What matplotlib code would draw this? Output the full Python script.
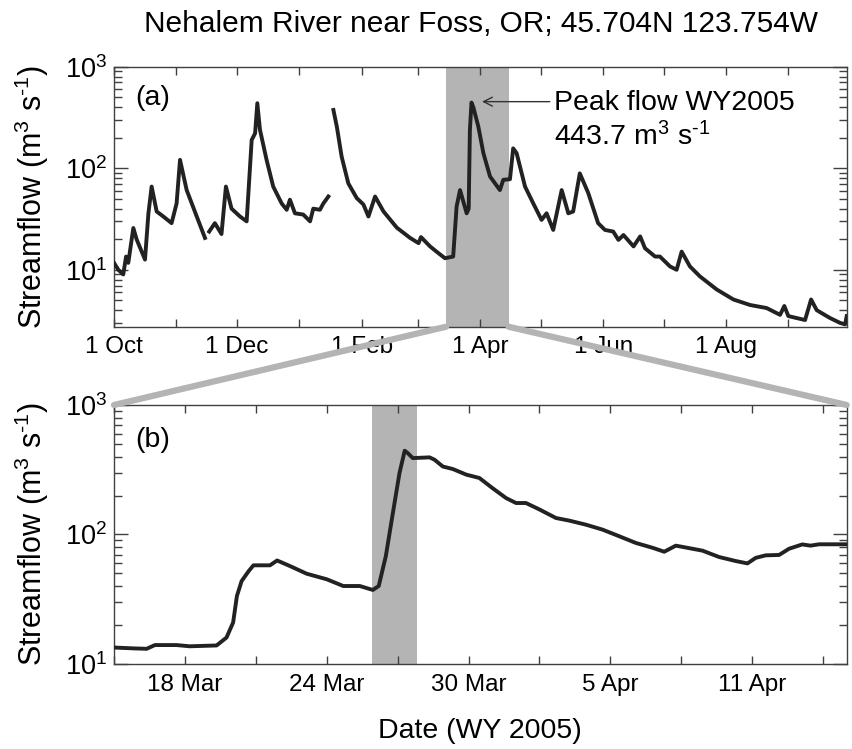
import numpy as np
import matplotlib
matplotlib.use("Agg")
import matplotlib.pyplot as plt
import matplotlib.dates as mdates
from matplotlib.patches import ConnectionPatch
from matplotlib.ticker import LogLocator, NullFormatter

# ── Data ───────────────────────────────────────────────────────────────────
# (a) streamflow for WY2005, days since 1 Oct 2004; nan marks a gap in record
WY_START = np.datetime64("2004-10-01T00:00")
wy_days = [0, 2.15, 4.6, 6.0, 7.1, 9.6, 11.3, 15.4, 17.1, 18.7, 21.2, 24.5, 28.6,
           31.1, 32.8, 36.1, 41.1, 45.2, 46.2, 47.3, 50.1, 53.4, 55.6, 58.4, 62.6,
           65.9, 68.4, 70.1, 71.2, 72.5, 75.8, 79.1, 83.3, 85.8, 87.4, 89.9, 94,
           97.4, 99, 102.3, 104, 106.5, 107.7, 109, 110.7, 113.1, 116.4, 120.6,
           123.9, 126.4, 129.7, 133.9, 140.5, 147.1, 151.3, 152.5, 157, 160.2,
           164.4, 168.5, 170.2, 171.9, 175.2, 176.2, 176.8, 177.6, 178.5, 181,
           183.5, 186.8, 191.7, 193.4, 196.7, 198.3, 200, 204.2, 208.3, 212.4,
           214.9, 218.2, 222.4, 225.7, 228.1, 231.4, 235.6, 240.5, 243.9, 248,
           250.6, 253.1, 258.1, 261.4, 263.8, 268.8, 271.2, 276.2, 279.5, 282,
           286.1, 291.1, 299.4, 307.7, 316, 324.2, 330.9, 333, 335, 343.3, 346.3,
           349.1, 355.7, 360.7, 363.2, 364]
wy_flow = [11.7, 10, 9, 13.5, 11.7, 25.8, 19.8, 12.6, 36, 66, 37.5, 33.5, 28.8,
           45, 121, 61, 33.5, 20.6, np.nan, 23.8, 28.8, 22.5, 66, 40, 33.5,
           30, 190, 221, 437, 240, 121, 66, 45, 39, 49, 36, 35,
           30, 40, 39, 45, 52.7, np.nan, 375, 257, 130, 71, 50.8,
           44, 33.5, 52.7, 37.5, 26, 20.6, 18.3, 21, 17, 15.1,
           13, 13.5, 42, 61, 36, 40, 238, 443.7, 400, 257,
           141, 83, 61, 77, 78, 157, 141, 66, 45, 31,
           36, 24.7, 61, 36, 37.5, 89, 57, 28.8, 24.7, 23.8,
           19.7, 22, 17, 21.3, 16.3, 13.5, 13.5, 10.8, 10, 15.1,
           10.8, 8.6, 6.4, 5.1, 4.5, 4.2, 3.6, 4.4, 3.5, 3.2, 5.1,
           4.0, 3.35, 3.0, 2.9, 3.5]

# (b) zoom window, days since 15 Mar 2005
ZOOM_START = np.datetime64("2005-03-15T00:00")
ZOOM_END = np.datetime64("2005-04-15T00:00")
zoom_days = [0, 0.82, 1.38, 1.73, 2.65, 3.2, 4.34, 4.76, 5.04, 5.2, 5.4, 5.7, 5.9,
             6.6, 6.9, 7.45, 8.15, 9.0, 9.7, 10.4, 10.95, 11.2, 11.5, 11.8, 12.08,
             12.3, 12.43, 12.64, 13.35, 13.56, 13.91, 14.34, 14.9, 15.46, 16.0,
             16.59, 17.01, 17.43, 18.0, 18.7, 19.26, 19.97, 20.67, 21.37, 22.08,
             22.78, 23.28, 23.77, 24.47, 24.9, 25.6, 26.3, 26.8, 27.15, 27.57,
             28.14, 28.56, 29.12, 29.47, 29.83, 31.0]
zoom_flow = [13.4, 13.2, 13.1, 14.0, 14.0, 13.7, 13.9, 16.0, 20.9, 33.5, 43.7, 52.2,
             57.8, 57.8, 63, 57, 49.8, 45.1, 40, 40, 37.3, 40, 68, 147, 299,
             443.7, 425, 389, 394, 378, 335, 320, 290, 273, 229,
             191, 175, 175, 156, 134, 128, 119, 109, 97, 86,
             79, 73.6, 82, 77.6, 75, 67, 62.4, 59.8, 66, 69,
             69.5, 77.6, 83.8, 82, 84, 84]

# peak-flow shading in (b), days since 15 Mar
peak_window = [10.9, 12.83]
UNITS = "m$^3$ s$^{\\text{-}1}$"
peak_label = ["Peak flow WY2005", "443.7 " + UNITS]

month_labels = ["1 Oct", "", "1 Dec", "", "1 Feb", "", "1 Apr", "", "1 Jun", "",
                "1 Aug", ""]
zoom_tick_labels = ["", "18 Mar", "", "24 Mar", "", "30 Mar", "", "5 Apr", "",
                    "11 Apr", ""]


def to_dt(start, days):
    return start + (np.asarray(days) * 86400).astype("timedelta64[s]")


def num(start, days):
    return mdates.date2num(to_dt(start, days))


plt.rcParams["font.family"] = ["Liberation Sans", "DejaVu Sans"]
plt.rcParams["mathtext.fontset"] = "custom"
plt.rcParams["mathtext.rm"] = "Liberation Sans"
plt.rcParams["mathtext.it"] = "Liberation Sans"
plt.rcParams["mathtext.bf"] = "Liberation Sans"

LINE = "#222222"
SHADE = "#b4b4b4"
SPINE = "#404040"
XTICK_FS = 17.5
YTICK_FS = 19.5
LAB_FS = 20.5

fig = plt.figure(figsize=(8.52, 7.49), dpi=100)
ax1 = fig.add_axes([0.1338, 0.5638, 0.8600, 0.3471])
ax2 = fig.add_axes([0.1338, 0.1135, 0.8600, 0.3458])

# ── (a) full water year ────────────────────────────────────────────────────
ax1.axvspan(num(ZOOM_START, 0), num(ZOOM_END, 0), color=SHADE, lw=0, zorder=0)
ax1.plot(num(WY_START, wy_days), wy_flow, color=LINE, lw=2.8,
         solid_joinstyle="round", zorder=3)
ax1.set_yscale("log")
ax1.set_ylim(2.75, 1000)
ax1.set_xlim(num(WY_START, 0), num(WY_START, 364))
months = np.arange(np.datetime64("2004-10"), np.datetime64("2005-10"),
                   np.timedelta64(1, "M")).astype("datetime64[D]")
ax1.set_xticks(mdates.date2num(months))
ax1.set_xticklabels(month_labels)
ax1.text(0.029, 0.88, "(a)", transform=ax1.transAxes, fontsize=LAB_FS,
         va="center", ha="left")

# annotation for peak
ax1.annotate("", xy=(num(WY_START, 182.8), 453),
             xytext=(num(WY_START, 216.5), 453),
             arrowprops=dict(arrowstyle="->", color="#333333", lw=1.0,
                             shrinkA=0, shrinkB=0, mutation_scale=16))
ax1.text(num(WY_START, 218.5), 440, peak_label[0], fontsize=LAB_FS,
         va="center", ha="left")
ax1.text(num(WY_START, 218.5), 205, peak_label[1], fontsize=LAB_FS,
         va="center", ha="left")

# ── (b) zoom on the peak ───────────────────────────────────────────────────
ax2.axvspan(num(ZOOM_START, peak_window[0]), num(ZOOM_START, peak_window[1]),
            color=SHADE, lw=0, zorder=0)
ax2.plot(num(ZOOM_START, zoom_days), zoom_flow, color=LINE, lw=2.8,
         solid_joinstyle="round", zorder=3)
ax2.set_yscale("log")
ax2.set_ylim(10, 1000)
ax2.set_xlim(num(ZOOM_START, 0), num(ZOOM_END, 0))
ax2.set_xticks(num(ZOOM_START, np.arange(0, 31, 3)))
ax2.set_xticklabels(zoom_tick_labels)
ax2.set_xlabel("Date (WY 2005)", fontsize=LAB_FS, labelpad=16)
ax2.text(0.029, 0.865, "(b)", transform=ax2.transAxes, fontsize=LAB_FS,
         va="center", ha="left")

for ax in (ax1, ax2):
    ax.set_ylabel("Streamflow (" + UNITS + ")", fontsize=22)
    ax.yaxis.set_label_coords(-0.086, 0.5)
    ax.yaxis.set_major_locator(LogLocator(base=10, numticks=10))
    ax.yaxis.set_minor_locator(LogLocator(base=10, subs=np.arange(2, 10),
                                          numticks=10))
    ax.yaxis.set_minor_formatter(NullFormatter())
    ax.tick_params(which="both", direction="in", top=True, right=True,
                   color=SPINE, width=1.0)
    ax.tick_params(axis="x", which="major", length=6, pad=7,
                   labelsize=XTICK_FS)
    ax.tick_params(axis="y", which="major", length=10, pad=5,
                   labelsize=YTICK_FS)
    ax.tick_params(axis="y", which="minor", length=6)
    for s in ax.spines.values():
        s.set_color(SPINE)
        s.set_linewidth(1.0)

# zoom connectors from (a) to (b)
for xa in (num(ZOOM_START, 0), num(ZOOM_END, 0)):
    con = ConnectionPatch(xyA=(xa, 2.75), coordsA=ax1.transData,
                          xyB=(xa, 1000), coordsB=ax2.transData,
                          color=SHADE, lw=4.5, zorder=5)
    fig.add_artist(con)

fig.suptitle("Nehalem River near Foss, OR; 45.704N 123.754W", fontsize=21.5,
             x=0.564, y=0.968, va="center")

fig.savefig("out.png", dpi=100)
